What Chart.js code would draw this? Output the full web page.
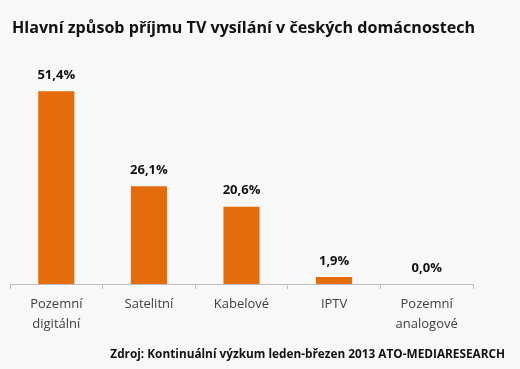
<!DOCTYPE html>
<html>
<head>
<meta charset="utf-8">
<script src="https://cdn.jsdelivr.net/npm/chart.js@4/dist/chart.umd.min.js"></script>
<style>
  html, body { margin: 0; padding: 0; background: #f8f8f8; }
  #wrap { width: 520px; height: 369px; position: relative; }
</style>
</head>
<body>
<div id="wrap"><canvas id="barChart"></canvas></div>
<script>
// Chart texts
const TITLE = "Hlavní způsob příjmu TV vysílání v českých domácnostech";
const SOURCE = "Zdroj: Kontinuální výzkum leden-březen 2013 ATO-MEDIARESEARCH";
// Categories (split into lines as in the original)
const categories = [
  ["Pozemní", "digitální"],
  ["Satelitní"],
  ["Kabelové"],
  ["IPTV"],
  ["Pozemní", "analogové"]
];
// Share of households, %
const shares = [51.4, 26.1, 20.6, 1.9, 0.0];

const FONT = "'Open Sans', sans-serif";

// value labels above bars + title + source line
const textPlugin = {
  id: 'texts',
  afterDatasetsDraw(chart) {
    const ctx = chart.ctx;
    const meta = chart.getDatasetMeta(0);
    ctx.save();
    ctx.fillStyle = '#111';
    ctx.font = 'bold 13px ' + FONT;
    ctx.textAlign = 'center';
    ctx.textBaseline = 'middle';
    meta.data.forEach((bar, i) => {
      const txt = shares[i].toFixed(1).replace('.', ',') + '%';
      ctx.fillText(txt, bar.x, bar.y - 16);
    });
    ctx.textAlign = 'left';
    ctx.font = 'bold 16.1px ' + FONT;
    ctx.fillText(TITLE, 12, 28);
    ctx.textAlign = 'right';
    ctx.font = 'bold 11.8px ' + FONT;
    ctx.fillText(SOURCE, 505, 355);
    ctx.restore();
  }
};

new Chart(document.getElementById('barChart'), {
  type: 'bar',
  data: {
    labels: categories,
    datasets: [{
      data: shares,
      backgroundColor: '#E46C0A',
      borderWidth: 0,
      categoryPercentage: 1,
      barPercentage: 0.39
    }]
  },
  options: {
    responsive: true,
    maintainAspectRatio: false,
    animation: false,
    layout: { padding: { left: 10, right: 47, top: 58, bottom: 29 } },
    plugins: {
      legend: { display: false },
      tooltip: { enabled: false },
      title: { display: false }
    },
    scales: {
      y: { display: false, min: 0, max: 60.3 },
      x: {
        grid: {
          offset: true,
          drawOnChartArea: false,
          drawTicks: true,
          tickLength: 5,
          color: '#bfbfbf'
        },
        border: { display: true, color: '#bfbfbf' },
        ticks: {
          color: '#404040',
          padding: 6,
          maxRotation: 0,
          font: { family: FONT, size: 13, lineHeight: 1.5 }
        }
      }
    }
  },
  plugins: [textPlugin]
});
</script>
</body>
</html>
